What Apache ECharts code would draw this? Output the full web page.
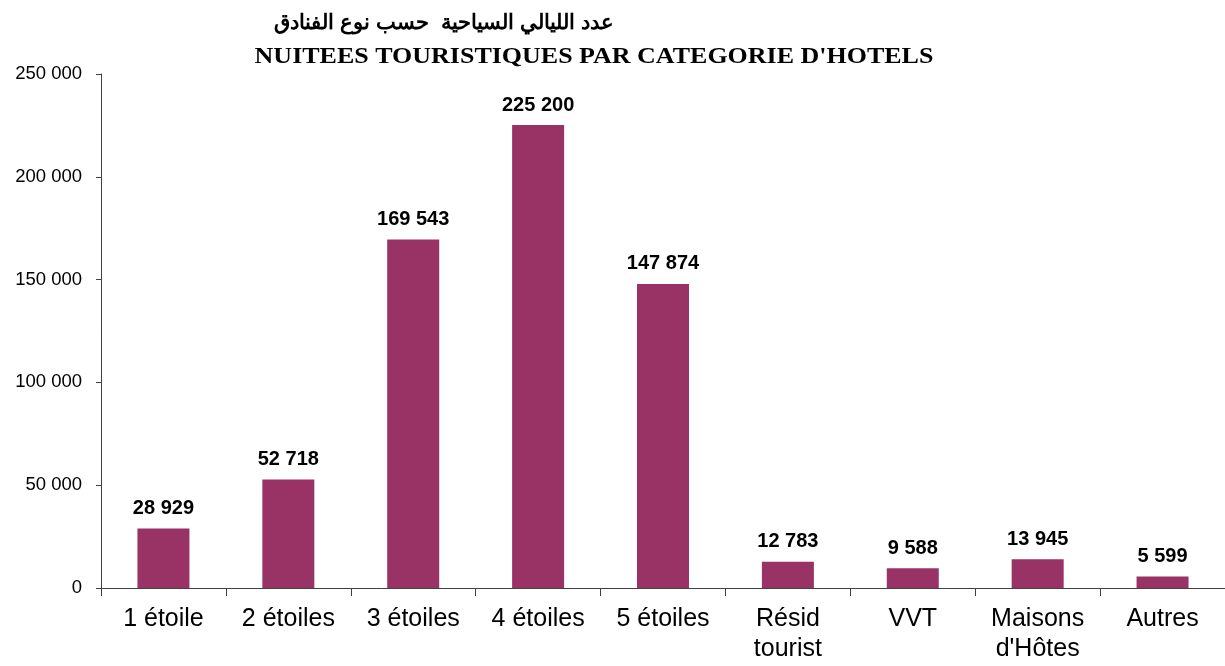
<!DOCTYPE html>
<html><head><meta charset="utf-8">
<script src="https://cdn.jsdelivr.net/npm/echarts@6/dist/echarts.min.js"></script>
<style>html,body{margin:0;padding:0;background:#fff}#c{width:1225px;height:666px}</style>
</head><body><div id="c"></div>
<script>
const categories = ["1 étoile","2 étoiles","3 étoiles","4 étoiles","5 étoiles","Résid\ntourist","VVT","Maisons\nd'Hôtes","Autres"];
const values = [28929,52718,169543,225200,147874,12783,9588,13945,5599];
const titleAr = "عدد الليالي السياحية  حسب نوع الفنادق";
const titleFr = "NUITEES TOURISTIQUES PAR CATEGORIE D'HOTELS";
const fmt = v => String(v).replace(/\B(?=(\d{3})+(?!\d))/g, " ");
const chart = echarts.init(document.getElementById('c'));
chart.setOption({
  animation:false,
  graphic:[
    {type:'text',x:444,y:23,style:{text:titleAr,font:'bold 21px "Liberation Sans", Arial',fill:'#000',align:'center',verticalAlign:'middle'}},
    {type:'text',x:594,y:57,scaleX:1.13,style:{text:titleFr,font:'bold 23px "Liberation Serif", "Times New Roman"',fill:'#000',align:'center',verticalAlign:'middle'}}
  ],
  grid:{left:101,right:-1,top:74,bottom:78,containLabel:false},
  xAxis:{type:'category',data:categories,
    axisLine:{lineStyle:{color:'#404040',width:1}},
    axisTick:{show:true,length:8,lineStyle:{color:'#404040'}},
    axisLabel:{fontFamily:'Liberation Sans, Arial',fontSize:25,color:'#000',margin:16,lineHeight:30,interval:0}},
  yAxis:{type:'value',min:0,max:250000,interval:50000,
    axisLine:{show:true,lineStyle:{color:'#404040'}},
    axisTick:{show:true,length:5,lineStyle:{color:'#404040'}},
    splitLine:{show:false},
    axisLabel:{fontFamily:'Liberation Sans, Arial',fontSize:18.5,color:'#000',margin:19,formatter:fmt}},
  series:[{type:'bar',data:values,barWidth:52,
    itemStyle:{color:'#993366'},
    label:{show:true,position:'top',distance:10,formatter:p=>fmt(p.value),
      fontFamily:'Liberation Sans, Arial',fontWeight:'bold',fontSize:20,color:'#000'}}]
});
</script></body></html>
